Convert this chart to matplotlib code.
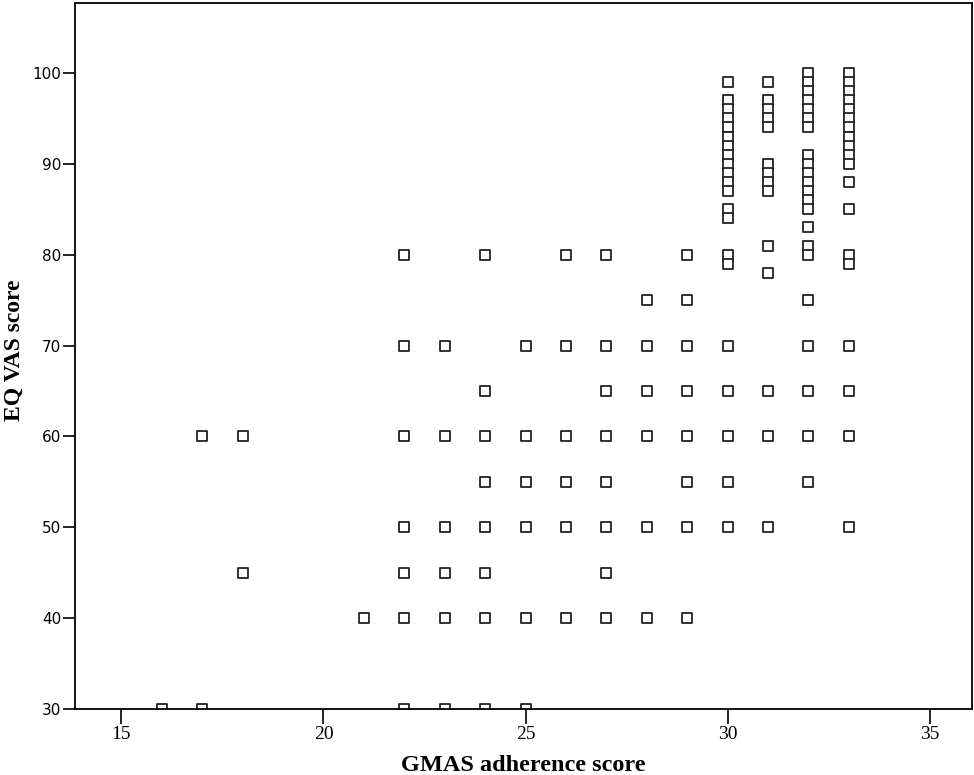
import numpy as np
import matplotlib
matplotlib.use('Agg')
import matplotlib.pyplot as plt

# GMAS adherence score -> list of EQ VAS scores seen at that score
col_16 = [30]
col_17 = [60, 30]
col_18 = [60, 45]
col_21 = [40]
col_22 = [80, 70, 60, 50, 45, 40, 30]
col_23 = [70, 60, 50, 45, 40, 30]
col_24 = [80, 65, 60, 55, 50, 45, 40, 30]
col_25 = [70, 60, 55, 50, 40, 30]
col_26 = [80, 70, 60, 55, 50, 40]
col_27 = [80, 70, 65, 60, 55, 50, 45, 40]
col_28 = [75, 70, 65, 60, 50, 40]
col_29 = [80, 75, 70, 65, 60, 55, 50, 40]
col_30 = [99, 97, 96, 95, 94, 93, 92, 91, 90, 89, 88, 87, 85, 84, 80, 79,
          70, 65, 60, 55, 50]
col_31 = [99, 97, 96, 95, 94, 90, 89, 88, 87, 81, 78, 65, 60, 50]
col_32 = [100, 99, 98, 97, 96, 95, 94, 91, 90, 89, 88, 87, 86, 85, 83, 81, 80,
          75, 70, 65, 60, 55]
col_33 = [100, 99, 98, 97, 96, 95, 94, 93, 92, 91, 90, 88, 85, 80, 79,
          70, 65, 60, 50]

columns = {16: col_16, 17: col_17, 18: col_18, 21: col_21, 22: col_22,
           23: col_23, 24: col_24, 25: col_25, 26: col_26, 27: col_27,
           28: col_28, 29: col_29, 30: col_30, 31: col_31, 32: col_32,
           33: col_33}

gmas = []
vas = []
for k, vals in columns.items():
    for v in vals:
        gmas.append(k)
        vas.append(v)

plt.rcParams['font.family'] = ['Liberation Serif', 'DejaVu Serif']

fig = plt.figure(figsize=(9.74, 7.75), dpi=100)
ax = fig.add_axes([75 / 974, 1 - 709 / 775, (972 - 75) / 974, (709 - 3) / 775])

ax.scatter(gmas, vas, marker='s', s=42, facecolors='white',
           edgecolors='#222222', linewidths=1.3, zorder=3)

ax.set_xlim(13.85, 36.05)
ax.set_ylim(30, 107.7)
ax.set_xticks([15, 20, 25, 30, 35])
ax.set_yticks([30, 40, 50, 60, 70, 80, 90, 100])
ax.tick_params(axis='x', direction='out', length=11, width=1.2, labelsize=14, pad=1)
ax.tick_params(axis='y', direction='out', length=9, width=1.2, pad=1)
for lab in ax.get_yticklabels():
    lab.set_family('DejaVu Sans')
    lab.set_fontsize(11)
for s in ax.spines.values():
    s.set_linewidth(1.3)
    s.set_color('black')
    s.set_zorder(4)

# x label: keep it fully inside the canvas
fig.text(523 / 974, 1 - 771 / 775, 'GMAS adherence score', ha='center', va='baseline',
         fontsize=17.5, fontweight='bold')
fig.text(14 / 974, 1 - 350 / 775, 'EQ VAS score', ha='center', va='center',
         rotation=90, fontsize=17, fontweight='bold')

fig.savefig('out.png', dpi=100)
